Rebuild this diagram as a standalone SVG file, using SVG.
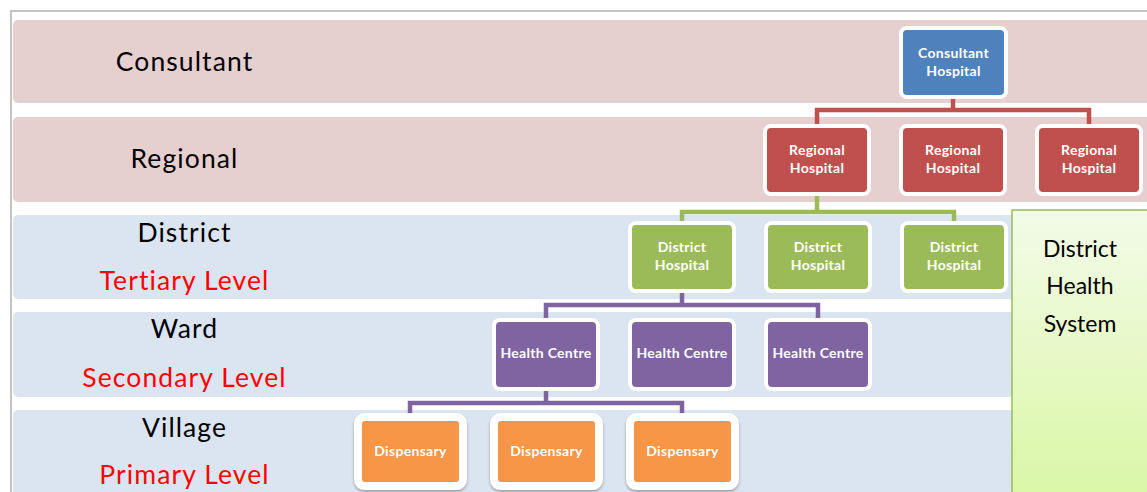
<svg xmlns="http://www.w3.org/2000/svg" width="1147" height="492" viewBox="0 0 1147 492">
<defs>
<linearGradient id="dhsGrad" x1="0" y1="0" x2="0" y2="1">
<stop offset="0" stop-color="#f3fbe8"/>
<stop offset="1" stop-color="#d9f7a4"/>
</linearGradient>
<filter id="shadow" x="-20%" y="-20%" width="140%" height="150%">
<feDropShadow dx="0" dy="2" stdDeviation="1.5" flood-color="#000" flood-opacity="0.3"/>
</filter>
</defs>
<style>
.band-pink{fill:#e6cfcf}
.band-blue{fill:#dbe5f1}
.lvl{font-family:Lato,"Liberation Sans",sans-serif;font-size:26.5px;fill:#000;text-anchor:middle;letter-spacing:1.1px}
.lvl-red{fill:#ff0000}
.node rect{stroke:#fff;stroke-width:4}
.node text{font-family:Lato,"Liberation Sans",sans-serif;font-size:14px;font-weight:bold;fill:#fff;text-anchor:middle;letter-spacing:0.3px}
.blue{fill:#4f81bd}
.red{fill:#c0504d}
.green{fill:#9bbb59}
.purple{fill:#8064a2}
.orange{fill:#f79646}
.conn{fill:none;stroke-width:4.5}
.dhs{font-family:Lato,"Liberation Sans",sans-serif;font-size:23px;fill:#000;text-anchor:middle}
</style>
<rect x="0" y="0" width="1147" height="492" fill="#fff"/>
<path d="M11 492 V11 H1147" fill="none" stroke="#c4c4c4" stroke-width="2"/>
<g id="bands">
<rect class="band-pink" x="13" y="20" width="1140" height="83" rx="5"/>
<rect class="band-pink" x="13" y="117" width="1140" height="85" rx="5"/>
<rect class="band-blue" x="13" y="215" width="1140" height="84" rx="5"/>
<rect class="band-blue" x="13" y="312" width="1140" height="85" rx="5"/>
<rect class="band-blue" x="13" y="410" width="1140" height="90" rx="5"/>
</g>
<g id="level-labels">
<text class="lvl" x="184.5" y="71">Consultant</text>
<text class="lvl" x="184.5" y="168">Regional</text>
<text class="lvl" x="184.5" y="242">District</text>
<text class="lvl lvl-red" x="184.5" y="290">Tertiary Level</text>
<text class="lvl" x="184.5" y="338">Ward</text>
<text class="lvl lvl-red" x="184.5" y="387">Secondary Level</text>
<text class="lvl" x="184.5" y="437">Village</text>
<text class="lvl lvl-red" x="184.5" y="484">Primary Level</text>
</g>
<g id="district-health-system">
<rect x="1012" y="210" width="145" height="295" fill="url(#dhsGrad)" stroke="#9bbb59" stroke-width="1.5"/>
<text class="dhs" x="1080" y="257">District</text>
<text class="dhs" x="1080" y="294">Health</text>
<text class="dhs" x="1080" y="332">System</text>
</g>
<g id="connectors">
<path class="conn" stroke="#c0504d" d="M953 95 V110 M817 124 V110 H1089 V124"/>
<path class="conn" stroke="#9bbb59" d="M817 192 V212 M682 221 V212 H954 V221"/>
<path class="conn" stroke="#8064a2" d="M682 289 V305 M546 318 V305 H818 V318"/>
<path class="conn" stroke="#8064a2" d="M546 387 V403 M410 414 V403 H682 V414"/>
</g>
<g id="consultant-hospital" class="node">
<rect class="blue" x="901" y="28" width="105" height="69" rx="6"/>
<text x="953.5" y="58">Consultant</text>
<text x="953.5" y="76">Hospital</text>
</g>
<g id="regional-hospital-1" class="node">
<rect class="red" x="765" y="126" width="104" height="68" rx="6"/>
<text x="817" y="155">Regional</text>
<text x="817" y="173">Hospital</text>
</g>
<g id="regional-hospital-2" class="node">
<rect class="red" x="901" y="126" width="104" height="68" rx="6"/>
<text x="953" y="155">Regional</text>
<text x="953" y="173">Hospital</text>
</g>
<g id="regional-hospital-3" class="node">
<rect class="red" x="1037" y="126" width="104" height="68" rx="6"/>
<text x="1089" y="155">Regional</text>
<text x="1089" y="173">Hospital</text>
</g>
<g id="district-hospital-1" class="node">
<rect class="green" x="630" y="223" width="104" height="68" rx="6"/>
<text x="682" y="252">District</text>
<text x="682" y="270">Hospital</text>
</g>
<g id="district-hospital-2" class="node">
<rect class="green" x="766" y="223" width="104" height="68" rx="6"/>
<text x="818" y="252">District</text>
<text x="818" y="270">Hospital</text>
</g>
<g id="district-hospital-3" class="node">
<rect class="green" x="902" y="223" width="104" height="68" rx="6"/>
<text x="954" y="252">District</text>
<text x="954" y="270">Hospital</text>
</g>
<g id="health-centre-1" class="node">
<rect class="purple" x="494" y="320" width="104" height="69" rx="6"/>
<text x="546" y="358">Health Centre</text>
</g>
<g id="health-centre-2" class="node">
<rect class="purple" x="630" y="320" width="104" height="69" rx="6"/>
<text x="682" y="358">Health Centre</text>
</g>
<g id="health-centre-3" class="node">
<rect class="purple" x="766" y="320" width="104" height="69" rx="6"/>
<text x="818" y="358">Health Centre</text>
</g>
<g id="dispensary-1" class="node">
<rect class="orange" x="358" y="417" width="105" height="69" rx="7" style="stroke-width:8" filter="url(#shadow)"/>
<text x="410.5" y="456">Dispensary</text>
</g>
<g id="dispensary-2" class="node">
<rect class="orange" x="494" y="417" width="105" height="69" rx="7" style="stroke-width:8" filter="url(#shadow)"/>
<text x="546.5" y="456">Dispensary</text>
</g>
<g id="dispensary-3" class="node">
<rect class="orange" x="630" y="417" width="105" height="69" rx="7" style="stroke-width:8" filter="url(#shadow)"/>
<text x="682.5" y="456">Dispensary</text>
</g>
</svg>
